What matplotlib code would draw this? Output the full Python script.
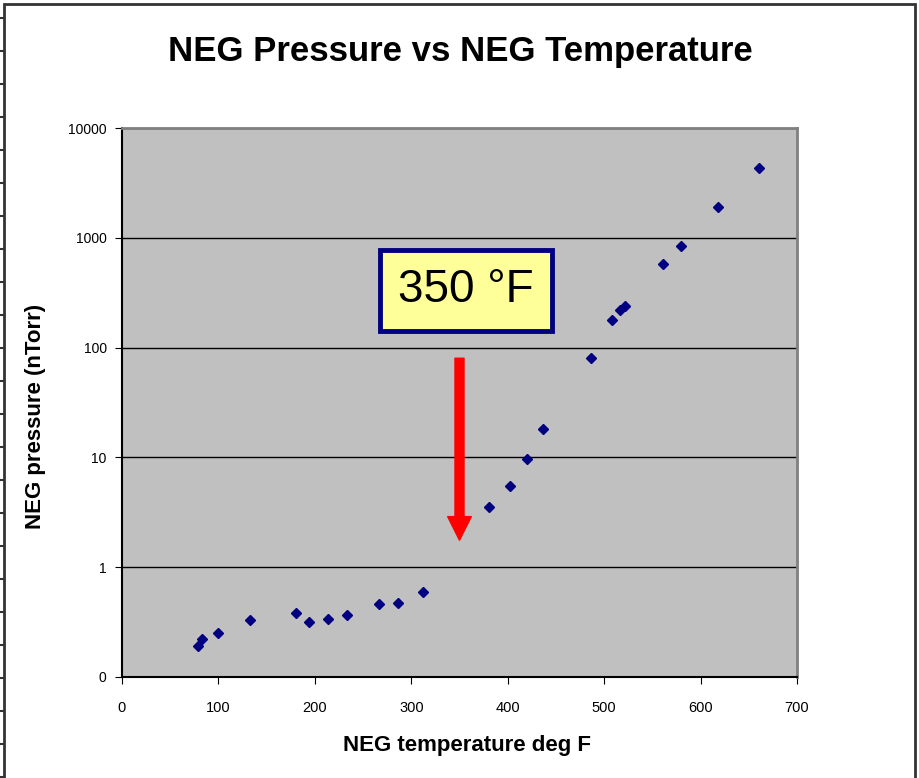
import numpy as np
import matplotlib.pyplot as plt
from matplotlib.patches import Rectangle
from matplotlib.lines import Line2D

# data
temp_f = [79, 83, 100, 133, 180, 194, 214, 233, 267, 286, 312,
          381, 402, 420, 437, 486, 508, 516, 522, 561, 580, 618, 661]
pressure_ntorr = [0.19, 0.22, 0.25, 0.33, 0.38, 0.32, 0.34, 0.37, 0.46, 0.47, 0.59,
                  3.5, 5.5, 9.6, 18, 80, 179, 222, 238, 575, 843, 1900, 4330]
y_ticks = [0.1, 1, 10, 100, 1000, 10000]
y_labels = ["0", "1", "10", "100", "1000", "10000"]
x_ticks = [0, 100, 200, 300, 400, 500, 600, 700]
marker_temp = 350

plt.rcParams["font.family"] = ["Liberation Sans", "DejaVu Sans"]
W, H = 919, 778
fig = plt.figure(figsize=(W / 100, H / 100), dpi=100)
ax = fig.add_axes([122 / W, 1 - 677 / H, 675 / W, 549 / H])

ax.set_facecolor("#C0C0C0")
ax.plot(temp_f, pressure_ntorr, linestyle="none", marker="D",
        markersize=5.5, color="#000080", zorder=3)

ax.set_yscale("log")
ax.set_ylim(0.1, 10000)
ax.set_xlim(0, 700)
ax.set_yticks(y_ticks)
ax.set_yticklabels(y_labels)
ax.set_xticks(x_ticks)
ax.minorticks_off()
ax.yaxis.grid(True, color="black", linewidth=1)
ax.tick_params(axis="y", direction="out", length=5, labelsize=10, pad=6)
ax.tick_params(axis="x", direction="out", length=5, labelsize=10.5, pad=12)

for s in ["top", "right"]:
    ax.spines[s].set_color("#808080")
    ax.spines[s].set_linewidth(2)
for s in ["left", "bottom"]:
    ax.spines[s].set_color("black")
    ax.spines[s].set_linewidth(1.5)

ax.set_xlabel("NEG temperature deg F", fontsize=16, fontweight="bold")
ax.xaxis.set_label_coords(0.511, -0.105)
ax.set_ylabel("NEG pressure (nTorr)", fontsize=16, fontweight="bold")
ax.yaxis.set_label_coords(-0.112, 0.474)
fig.text(0.5 + 0.5 / W, 1 - 52 / H, "NEG Pressure vs NEG Temperature",
         fontsize=25, fontweight="bold", ha="center", va="center")

# 350 F marker
ax.annotate("", xy=(marker_temp, 1.76), xytext=(marker_temp, 80),
            arrowprops=dict(facecolor="red", edgecolor="red", width=6.5,
                            headwidth=17, headlength=17, shrink=0))
ax.text(357, 333, "350 °F", fontsize=33, ha="center", va="center",
        bbox=dict(boxstyle="square,pad=0.4", facecolor="#FFFF99",
                  edgecolor="#000080", linewidth=3.5))

# outer sheet frame
fig.add_artist(Rectangle((4 / W, -0.01), 911 / W, 1 - 4 / H + 0.01,
                         transform=fig.transFigure, fill=False,
                         edgecolor="#333333", linewidth=2))
for yy in np.arange(18, H, 33):
    fig.add_artist(Line2D([0, 4 / W], [1 - yy / H, 1 - yy / H],
                          transform=fig.transFigure, color="#333333", linewidth=1.5))

fig.savefig("out.png", dpi=100)
